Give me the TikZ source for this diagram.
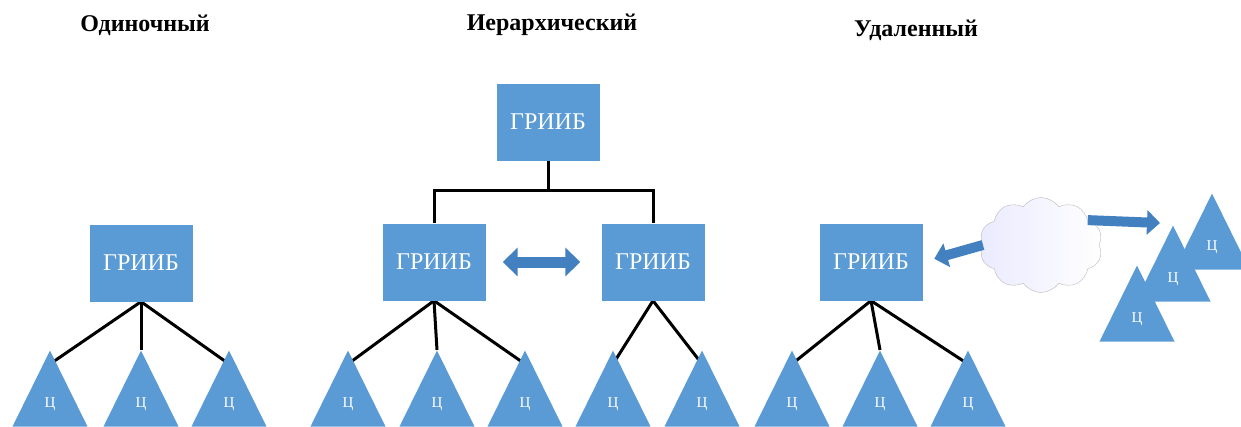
\documentclass[tikz,border=0pt]{standalone}
\usepackage{fontspec}
\setmainfont{Liberation Serif}
\usetikzlibrary{arrows.meta,backgrounds,positioning,shapes.geometric,shapes.symbols}
\definecolor{boxblue}{RGB}{91,155,213}
\definecolor{arrblue}{RGB}{66,128,192}

\begin{document}
\begin{tikzpicture}[x=1pt,y=-1pt,
		grib/.style = {fill=boxblue, text=white, minimum width=103pt, minimum height=77pt, font=\fontsize{24}{28}\selectfont},
		ts/.style = {isosceles triangle, isosceles triangle stretches, shape border rotate=90, fill=boxblue, text=white, minimum width=75pt, minimum height=76pt, inner sep=0pt, anchor=apex, font=\fontsize{15}{18}\selectfont},
		ttl/.style = {font=\fontsize{24}{28}\selectfont\bfseries},
		link/.style = {line width=3pt},
		fat/.style = {line width=11pt, arrblue, {Triangle[length=15pt,width=28pt]}-{Triangle[length=15pt,width=28pt]}},
		rem/.style = {line width=10pt, arrblue, -{Triangle[length=13pt,width=24pt]}},
	]
	\useasboundingbox (0,0) rectangle (1241,426);

	\node[ttl] (h1) at (145,25) {Одиночный};
	\node[ttl] (h2) at (552,25) {Иерархический};
	\node[ttl] (h3) at (916,30) {Удаленный};

	% single
	\node[grib] (g1) at (141,263) {ГРИИБ};
	\node[ts] (c11) at (50,350) {Ц};
	\node[ts] (c12) at (141,350) {Ц};
	\node[ts] (c13) at (229,350) {Ц};

	% hierarchy
	\node[grib] (g2) at (548,122) {ГРИИБ};
	\node[grib] (g2l) at (434,262) {ГРИИБ};
	\node[grib] (g2r) at (653,262) {ГРИИБ};
	\coordinate (hj) at (548,190);
	\node[ts] (c21) at (348,350) {Ц};
	\node[ts] (c22) at (437,350) {Ц};
	\node[ts] (c23) at (525,350) {Ц};
	\node[ts] (c24) at (613,350) {Ц};
	\node[ts] (c25) at (702,350) {Ц};
	\draw[fat, shorten <=17pt, shorten >=21pt] (g2l.east) -- (g2r.west);

	% remote
	\node[grib] (g3) at (871,262) {ГРИИБ};
	\node[ts] (c31) at (792,350) {Ц};
	\node[ts] (c32) at (880,350) {Ц};
	\node[ts] (c33) at (968,350) {Ц};
	\node[cloud, cloud puffs=10, cloud puff arc=110, aspect=1.3, draw=gray!55, left color=blue!8, right color=white, minimum width=123pt, minimum height=95pt, inner sep=0pt] (cl) at (1041,245) {};
	\node[ts] (r1) at (1212,193) {Ц};
	\node[ts] (r2) at (1173,225) {Ц};
	\node[ts] (r3) at (1137,265) {Ц};
	\coordinate (ar) at (1160,223);
	\draw[rem, shorten >=12pt] (cl.west) -- (g3.east);
	\draw[rem] (cl.28) -- (ar);

	\begin{scope}[on background layer]
		\draw[link] (g1.south) -- (c12.apex);
		\draw[link] (g1.south) -- ([yshift=-14pt]c11.apex);
		\draw[link] (g1.south) -- ([yshift=-14pt]c13.apex);
		\draw[link] (g2.south) -- (hj);
		\draw[link] (g2l.north) |- (hj) -| (g2r.north);
		\draw[link] (g2l.south) -- ([yshift=-14pt]c21.apex);
		\draw[link] (g2l.south) -- (c22.apex);
		\draw[link] (g2l.south) -- ([yshift=-14pt]c23.apex);
		\draw[link] (g2r.south) -- ([yshift=-14pt]c24.apex);
		\draw[link] (g2r.south) -- ([yshift=-14pt]c25.apex);
		\draw[link] (g3.south) -- ([yshift=-14pt]c31.apex);
		\draw[link] (g3.south) -- (c32.apex);
		\draw[link] (g3.south) -- ([yshift=-14pt]c33.apex);
	\end{scope}
\end{tikzpicture}
\end{document}
